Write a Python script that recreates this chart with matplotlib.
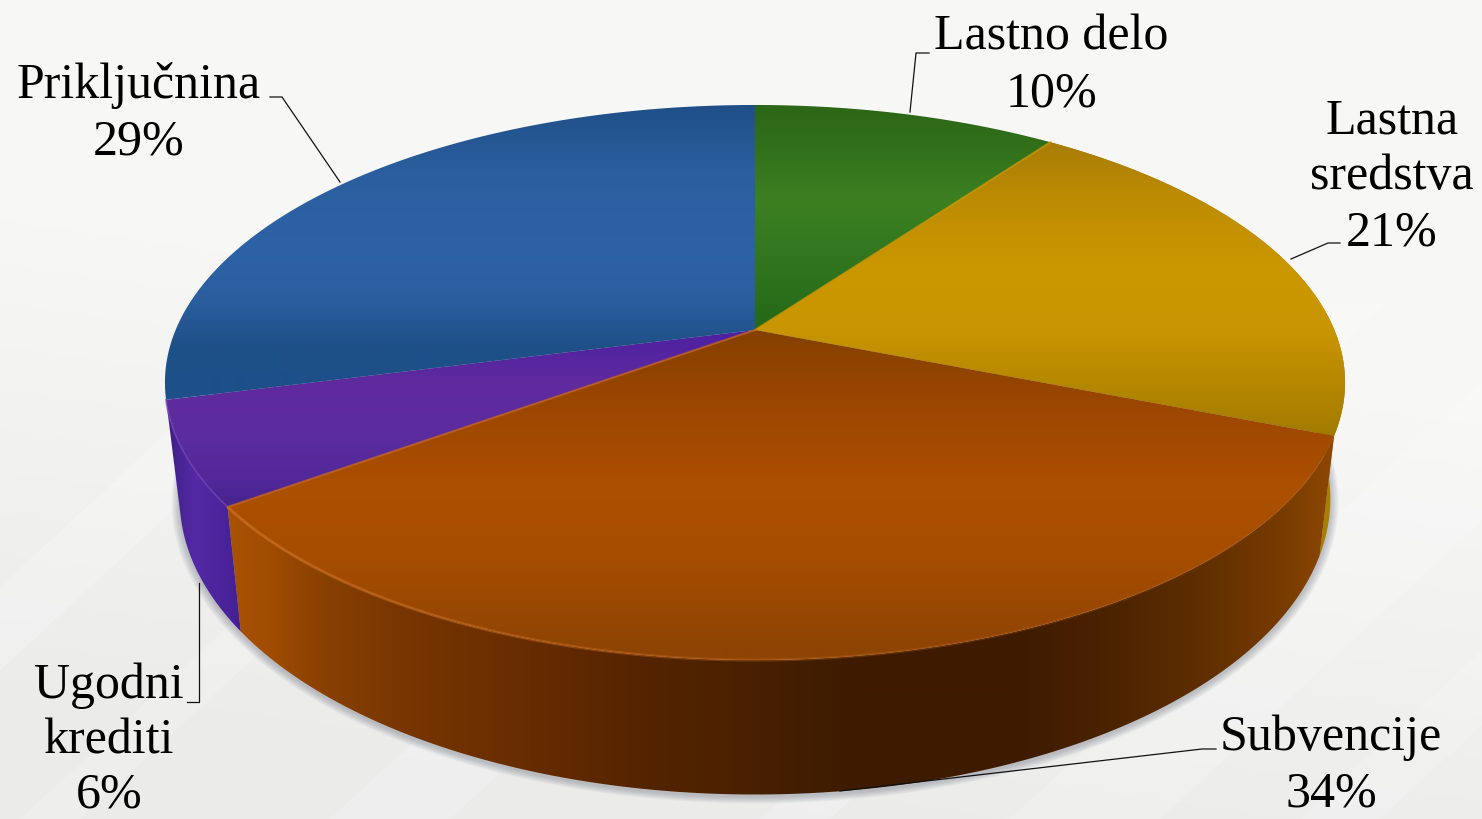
#3D style pie of the investment financing shares, drawn in pixel coords
import numpy as np
import matplotlib
matplotlib.use('Agg')
import matplotlib.pyplot as plt
from matplotlib.patches import Polygon

labels = ['Lastno delo', 'Lastna\nsredstva', 'Subvencije', 'Ugodni\nkrediti', 'Priključnina']
values = [10, 21, 34, 6, 29]

W, H = 1482, 819
fig = plt.figure(figsize=(W / 100, H / 100), dpi=100)
ax = fig.add_axes([0, 0, 1, 1])
ax.set_xlim(0, W)
ax.set_ylim(H, 0)
ax.axis('off')
plt.rcParams['font.family'] = ['Liberation Serif', 'DejaVu Serif']

#perspective of the pie disc
CX, CY = 755, 330
A, B, K = 579.4, 267.6, 0.1892
#lower rim of the side wall
SX, SY, YC = 0.975, 1.065, 443


def top_rim(deg):
    t = np.radians(deg)
    u, v = np.sin(t), np.cos(t)
    w = 1 + K * v
    return CX + A * u / w, CY - B * v / w


def low_rim(deg):
    x, y = top_rim(deg)
    return CX + SX * (x - CX), YC + SY * (y - CY)


def hex_rgb(c):
    return np.array(matplotlib.colors.to_rgb(c))


def grad_fill(poly, stops, vertical=True, z=2):
    #gradient image clipped to the polygon, stops are pixel positions
    pos = [s[0] for s in stops]
    cols = np.array([hex_rgb(s[1]) for s in stops])
    n = H if vertical else W
    rgb = np.stack([np.interp(np.arange(n) + 0.5, pos, cols[:, i]) for i in range(3)], axis=-1)
    img = rgb[:, None, :] if vertical else rgb[None, :, :]
    im = ax.imshow(img, extent=(0, W, H, 0), aspect='auto', zorder=z, interpolation='bilinear')
    patch = Polygon(poly, closed=True, transform=ax.transData, fc='none', ec='none')
    ax.add_patch(patch)
    im.set_clip_path(patch)
    ax.set_xlim(0, W)
    ax.set_ylim(H, 0)


#background, soft grey with faint diagonal bands
yy, xx = np.mgrid[0:H, 0:W]
shade = 0.972 - 0.05 * np.clip((yy / H - 0.35 + 0.25 * (0.5 - xx / W)) / 0.65, 0, 1)
bg = np.dstack([shade, shade + 0.002, shade - 0.004])
bg = np.clip(bg, 0, 1)
ax.imshow(bg, extent=(0, W, H, 0), aspect='auto', zorder=0)
for x0, wd, al in [(-250, 90, .22), (20, 60, .18), (330, 120, .2), (760, 70, .2), (1010, 150, .18), (1300, 80, .16)]:
    ax.add_patch(Polygon([(x0, 819), (x0 + wd, 819), (x0 + wd + 560, 300), (x0 + 560, 300)],
                         fc='white', ec='none', alpha=al, zorder=0.5))

top_cols = [
    [(105, '#2c6616'), (150, '#32711a'), (200, '#3d8022'), (250, '#33781f'), (330, '#246819')],
    [(140, '#a87c06'), (200, '#bd8c02'), (270, '#cc9800'), (330, '#c99500'), (400, '#b08400'), (437, '#a07a00')],
    [(330, '#854000'), (420, '#a04800'), (490, '#ac5000'), (560, '#a64d00'), (650, '#8e4404')],
    [(340, '#5022a0'), (380, '#5f2a9f'), (430, '#5c2d9e'), (480, '#52289a'), (510, '#45238c')],
    [(105, '#1f4f87'), (170, '#2a5e9e'), (250, '#2c63a6'), (300, '#2a5e9f'), (345, '#1f5088'), (400, '#1d5088')],
]
side_cols = [
    [(0, '#2a6516')],
    [(1290, '#a87f00'), (1345, '#a87f00')],
    [(232, '#a85204'), (270, '#a04c02'), (320, '#8a4101'), (400, '#783602'), (520, '#682d00'), (640, '#552400'),
     (760, '#482000'), (850, '#3e1b00'), (1020, '#3e1b00'), (1120, '#4d2400'), (1200, '#5f2e00'), (1280, '#773b00'),
     (1335, '#8e4802')],
    [(168, '#3f2088'), (195, '#5429a5'), (245, '#431f92')],
    [(0, '#20558f')],
]

#soft shadow under the pie
ang = np.linspace(0, 360, 361)
lx, ly = low_rim(ang)
for g in range(9, 0, -1):
    sx = CX + (lx - CX) * (1 + g * 0.0016)
    sy = YC + (ly - YC) * (1 + g * 0.0022) + 2
    ax.add_patch(Polygon(np.c_[sx, sy], fc='#5a6070', ec='none', alpha=0.045, zorder=1))

#slices: side wall first, then the top face over it
edges = np.concatenate([[0], np.cumsum(values)]) / np.sum(values) * 360
for i in range(len(values)):
    th = np.linspace(edges[i], edges[i + 1], 160)
    tx, ty = top_rim(th)
    bx, by = low_rim(th)
    side = np.r_[np.c_[tx, ty], np.c_[bx, by][::-1]]
    if len(side_cols[i]) > 1:
        grad_fill(side, side_cols[i], vertical=False, z=2)
for i in range(len(values)):
    th = np.linspace(edges[i], edges[i + 1], 160)
    tx, ty = top_rim(th)
    face = np.r_[[[CX, CY]], np.c_[tx, ty]]
    grad_fill(face, top_cols[i], vertical=True, z=3)

#light bevel along the front edge, strong on the left and fading to the right
th = np.linspace(edges[2], edges[3], 125)
tx, ty = top_rim(th)
for j in range(len(th) - 1):
    fade = np.clip((th[j] - edges[2]) / (edges[3] - edges[2]), 0, 1)
    ax.plot(tx[j:j + 2], ty[j:j + 2], color='#cc6c20', lw=2.2, alpha=0.05 + 0.7 * fade ** 1.5,
            solid_capstyle='butt', zorder=4)
th = np.linspace(edges[3], edges[4], 30)
tx, ty = top_rim(th)
ax.plot(tx, ty, color='#7040b0', lw=1.5, alpha=0.6, zorder=4)

#thin bright seams between slices
for e, c in [(edges[1], '#c89400'), (edges[3], '#c9661a')]:
    ex, ey = top_rim(e)
    ax.plot([CX, ex], [CY, ey], color=c, lw=1.5, alpha=0.7, zorder=4)

#labels, each line placed on its own baseline
label_pos = [(1051, 50, 56.5), (1392, 133, 56.5), (1331, 750, 56.5), (109, 698, 55), (139, 98, 56.5)]
for lab, val, (x, y, step) in zip(labels, values, label_pos):
    lines = lab.split('\n') + ['%d%%' % val]
    for j, line in enumerate(lines):
        ax.text(x, y + j * step, line, fontsize=36, ha='center', va='baseline', color='black', zorder=6)

#leader lines
leaders = [
    [(910, 112), (916, 53), (929, 53)],
    [(1291, 259), (1328, 243), (1340, 243)],
    [(840, 791), (1202, 749), (1216, 749)],
    [(199, 583), (199, 702), (187, 702)],
    [(340, 182), (282, 97), (270, 97)],
]
for pts in leaders:
    p = np.array(pts)
    ax.plot(p[:, 0], p[:, 1], color='#111111', lw=0.9, zorder=5)

ax.set_xlim(0, W)
ax.set_ylim(H, 0)
fig.savefig('out.png', dpi=100)
